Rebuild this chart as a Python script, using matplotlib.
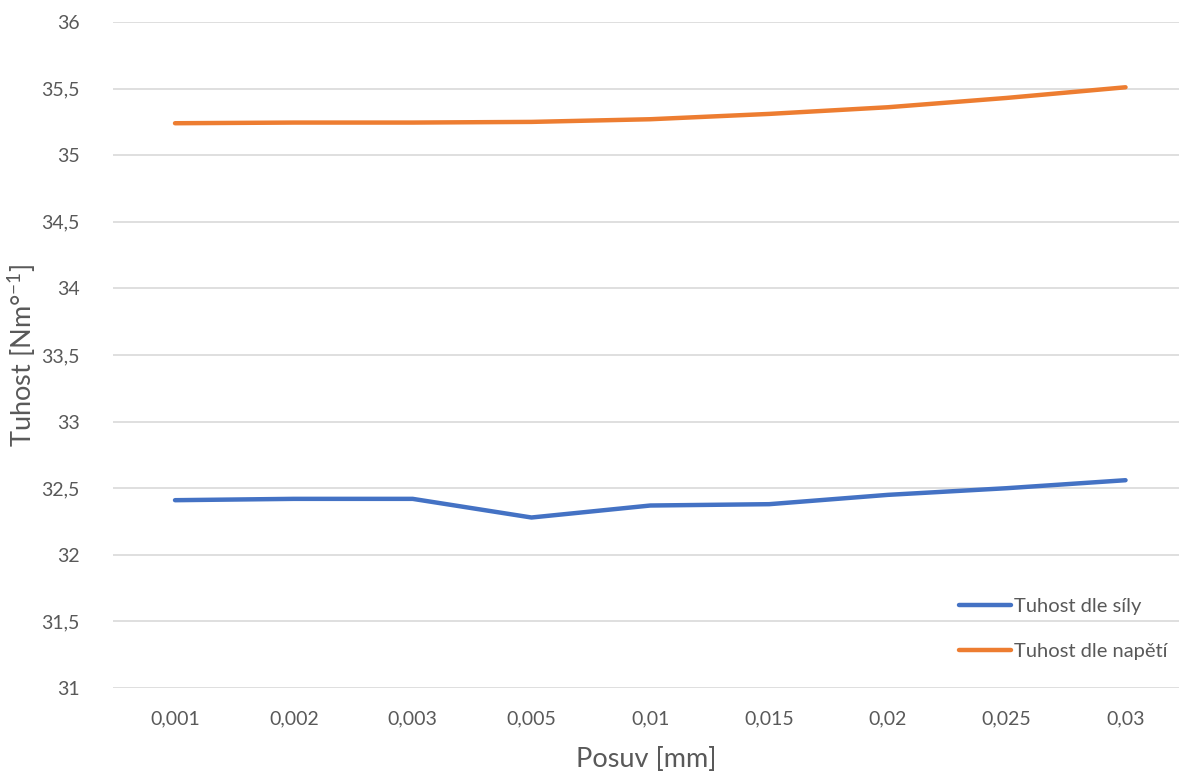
import matplotlib
matplotlib.use("Agg")
import matplotlib.pyplot as plt

# categories on the x axis (Posuv [mm])
posuv = ["0,001", "0,002", "0,003", "0,005", "0,01", "0,015", "0,02", "0,025", "0,03"]
# stiffness values
tuhost_sila = [32.41, 32.42, 32.42, 32.28, 32.37, 32.38, 32.45, 32.50, 32.56]
tuhost_napeti = [35.24, 35.245, 35.245, 35.25, 35.27, 35.31, 35.36, 35.43, 35.51]
y_ticks = [31, 31.5, 32, 32.5, 33, 33.5, 34, 34.5, 35, 35.5, 36]

plt.rcParams['font.family'] = ['Lato', 'DejaVu Sans']
text_color = "#595959"

fig = plt.figure(figsize=(11.79, 7.74), dpi=100)
ax = fig.add_axes([113 / 1179, 86 / 774, 1066 / 1179, 666 / 774])

x = list(range(len(posuv)))
ax.plot(x, tuhost_sila, color="#4472C4", linewidth=3.2, solid_capstyle="round",
        solid_joinstyle="round", label="Tuhost dle síly")
ax.plot(x, tuhost_napeti, color="#ED7D31", linewidth=3.2, solid_capstyle="round",
        solid_joinstyle="round", label="Tuhost dle napětí")

ax.set_xlim(-0.522, 8.45)
ax.set_ylim(31, 36)
ax.set_xticks(x)
ax.set_xticklabels(posuv)
ax.set_yticks(y_ticks)
ax.set_yticklabels([("%g" % v).replace(".", ",") for v in y_ticks])

ax.grid(axis="y", color="#D9D9D9", linewidth=1.2)
ax.set_axisbelow(True)
for s in ax.spines.values():
    s.set_visible(False)
ax.tick_params(axis="both", length=0, labelsize=14, colors=text_color)
ax.tick_params(axis="y", pad=24)
ax.tick_params(axis="x", pad=16)

ax.set_xlabel("Posuv [mm]", fontsize=19.5, color=text_color, labelpad=14)
ax.set_ylabel("Tuhost [Nm°$^{\\mathregular{-1}}$]", fontsize=19.5, color=text_color, labelpad=2)

leg = ax.legend(loc="center left", bbox_to_anchor=(941 / 1179, (774 - 629) / 774),
                bbox_transform=fig.transFigure, frameon=False, fontsize=14.5,
                handlelength=2.6, handletextpad=0.12, labelspacing=1.35)
for t in leg.get_texts():
    t.set_color(text_color)

fig.savefig("out.png", dpi=100)
